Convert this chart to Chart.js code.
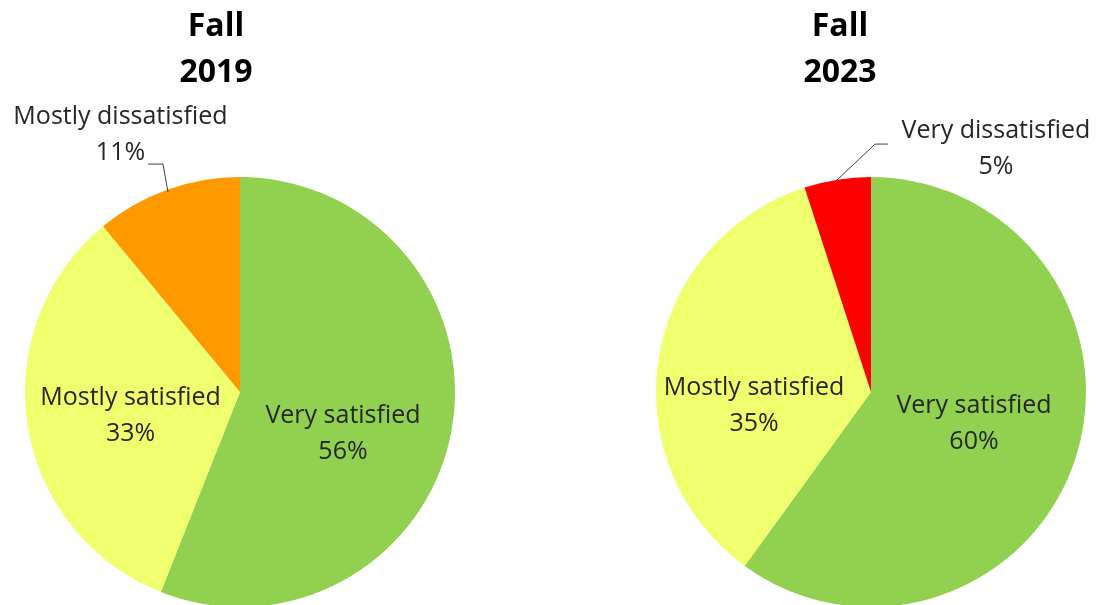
<!DOCTYPE html>
<html>
<head>
<meta charset="utf-8">
<script src="https://cdn.jsdelivr.net/npm/chart.js@4"></script>
<style>
  html, body { margin: 0; padding: 0; background: #fff; overflow: hidden; }
  #wrap { position: relative; width: 1097px; height: 605px; }
  canvas { position: absolute; top: 0; }
  #pie-2019 { left: 0; }
  #pie-2023 { left: 548px; }
</style>
</head>
<body>
<div id="wrap">
  <canvas id="pie-2019" width="548" height="620"></canvas>
  <canvas id="pie-2023" width="549" height="620"></canvas>
</div>
<script>
// Data
const titles2019 = ["Fall", "2019"];
const titles2023 = ["Fall", "2023"];
const labels2019 = ["Very satisfied", "Mostly satisfied", "Mostly dissatisfied"];
const values2019 = [56, 33, 11];
const labels2023 = ["Very satisfied", "Mostly satisfied", "Very dissatisfied"];
const values2023 = [60, 35, 5];

// Styles
const colors2019 = ["#92D050", "#EFFF6D", "#FF9900"];
const colors2023 = ["#92D050", "#EFFF6D", "#FF0000"];

// Label anchors, as fractions of the radius from the pie centre
const labelPos2019 = [[0.479, 0.144], [-0.509, 0.060], [-0.556, -1.247]];
const labelPos2023 = [[0.479, 0.098], [-0.544, 0.014], [0.581, -1.181]];
// Leader lines for the small outside labels
const leader2019 = { index: 2, pts: [[-0.428, -1.060], [-0.358, -1.060], [-0.335, -0.930]] };
const leader2023 = { index: 2, pts: [[0.079, -1.153], [0.019, -1.153], [-0.158, -0.986]] };

// Draws the two-line title and the slice labels
const pieLabels = {
  id: "pieLabels",
  afterDatasetsDraw(chart, args, opts) {
    const ctx = chart.ctx;
    const meta = chart.getDatasetMeta(0);
    const ds = chart.data.datasets[0];
    const arc0 = meta.data[0];
    const cx = arc0.x, cy = arc0.y, r = arc0.outerRadius;

    ctx.save();
    ctx.textAlign = "center";
    ctx.textBaseline = "alphabetic";

    // title
    ctx.fillStyle = "#000";
    ctx.font = "bold 32px 'Open Sans'";
    opts.title.forEach((t, i) => ctx.fillText(t, opts.titleX, 36 + i * 46));

    // leader line
    if (opts.leader) {
      ctx.strokeStyle = "#404040";
      ctx.lineWidth = 1;
      ctx.beginPath();
      opts.leader.pts.forEach(([fx, fy], i) => {
        const x = cx + fx * r, y = cy + fy * r;
        if (i === 0) ctx.moveTo(x, y); else ctx.lineTo(x, y);
      });
      ctx.stroke();
    }

    // labels
    ctx.fillStyle = "#262626";
    ctx.font = "25px 'Open Sans'";
    meta.data.forEach((el, i) => {
      const [fx, fy] = opts.positions[i];
      const x = cx + fx * r, y = cy + fy * r;
      ctx.fillText(chart.data.labels[i], x, y);
      ctx.fillText(ds.data[i] + "%", x, y + 36);
    });
    ctx.restore();
  }
};

function makePie(id, labels, values, colors, title, titleX, positions, leader, padding) {
  const ctx = document.getElementById(id).getContext("2d");
  return new Chart(ctx, {
    type: "pie",
    data: {
      labels: labels,
      datasets: [{
        data: values,
        backgroundColor: colors,
        borderWidth: 0,
        hoverOffset: 0,
        offset: 0
      }]
    },
    options: {
      responsive: false,
      animation: false,
      events: [],
      layout: { padding: padding },
      plugins: {
        legend: { display: false },
        tooltip: { enabled: false },
        title: { display: false },
        pieLabels: { title: title, titleX: titleX, positions: positions, leader: leader }
      }
    },
    plugins: [pieLabels]
  });
}

window.addEventListener("DOMContentLoaded", () => {
  makePie("pie-2019", labels2019, values2019, colors2019, titles2019, 216,
    labelPos2019, leader2019, { left: 25, right: 93, top: 177, bottom: 13 });
  makePie("pie-2023", labels2023, values2023, colors2023, titles2023, 292,
    labelPos2023, leader2023, { left: 108, right: 11, top: 177, bottom: 13 });
});
</script>
</body>
</html>
